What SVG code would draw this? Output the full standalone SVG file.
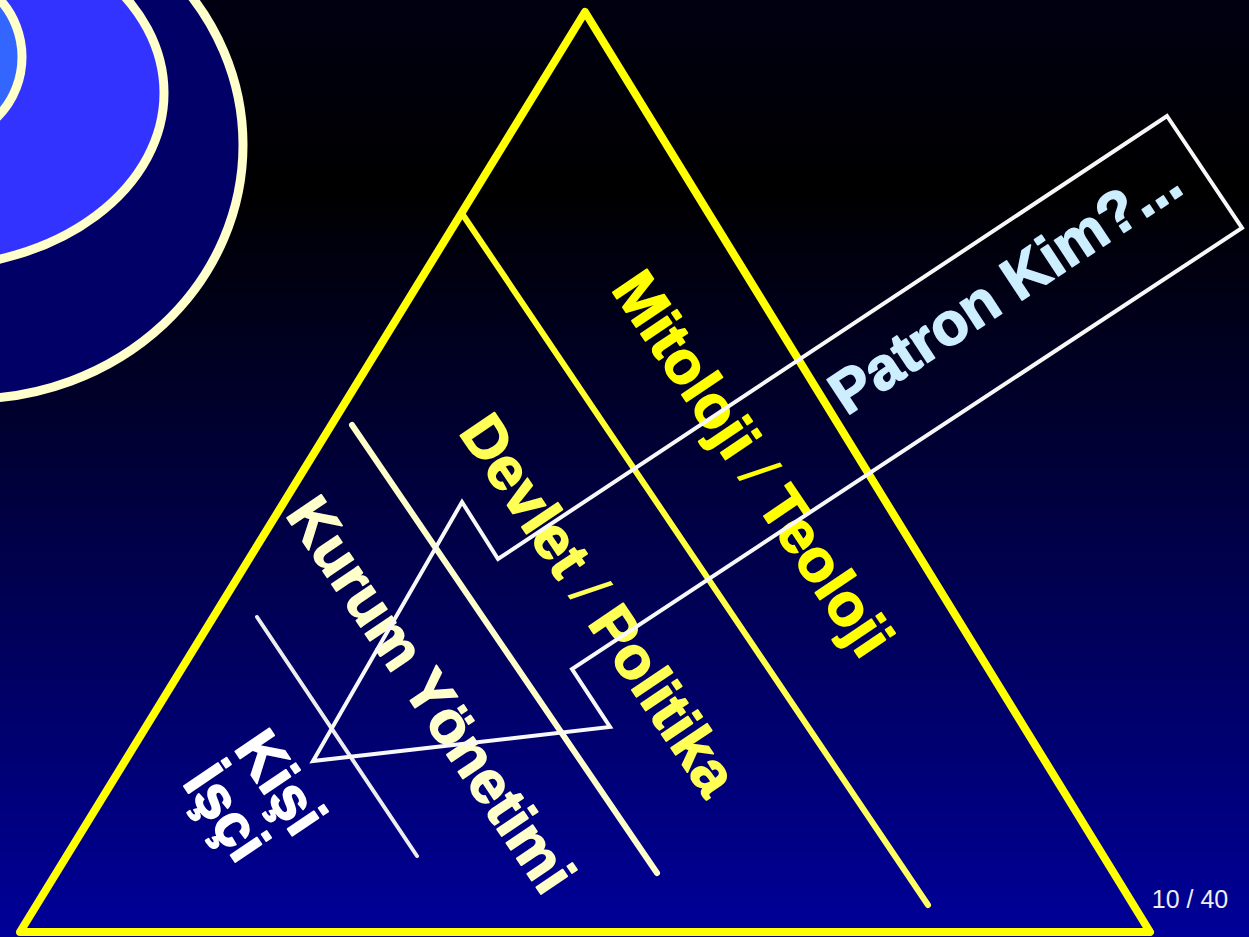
<svg xmlns="http://www.w3.org/2000/svg" width="1249" height="937" viewBox="0 0 1249 937">
  <defs>
    <linearGradient id="bg" x1="0" y1="0" x2="0" y2="1">
      <stop offset="0" stop-color="#000012"/>
      <stop offset="0.2" stop-color="#000000"/>
      <stop offset="1" stop-color="#000099"/>
    </linearGradient>
    <linearGradient id="line1" gradientUnits="userSpaceOnUse" x1="463" y1="215" x2="928" y2="905">
      <stop offset="0" stop-color="#ffff1a"/>
      <stop offset="1" stop-color="#ffff66"/>
    </linearGradient>
    <style>
      .ring { stroke: #ffffcc; stroke-width: 9; }
      .lbl { font-family: "Liberation Sans", Arial, sans-serif; font-weight: bold; font-size: 60px; stroke-width: 1.6px; stroke-linejoin: round; }
      .thin { font-weight: normal; stroke-width: 0; }
      .conn { fill: none; stroke-linecap: round; }
    </style>
  </defs>

  <rect id="background" x="0" y="0" width="1249" height="937" fill="url(#bg)"/>

  <g id="ellipses">
    <ellipse class="ring" cx="-30" cy="145" rx="273" ry="254" fill="#000066"/>
    <ellipse class="ring" cx="-70" cy="93" rx="234" ry="174" fill="#3333ff"/>
    <ellipse class="ring" cx="-60" cy="57" rx="82" ry="84" fill="#3366ff"/>
  </g>

  <g id="pyramid">
    <polygon points="585,12 1150,932 20,932" fill="none" stroke="#ffff00" stroke-width="8" stroke-linejoin="round"/>
  </g>

  <g id="connectors">
    <line class="conn" x1="463" y1="215" x2="928" y2="905" stroke="url(#line1)" stroke-width="6"/>
    <line class="conn" x1="352" y1="425" x2="657" y2="873" stroke="#ffffcc" stroke-width="6"/>
    <line class="conn" x1="257" y1="617" x2="417" y2="856" stroke="#eeeeee" stroke-width="4"/>
  </g>

  <g id="label-mitoloji">
    <text class="lbl" fill="#ffff00" stroke="#ffff00" text-anchor="middle" transform="translate(736,475) rotate(56)">Mitoloji <tspan class="thin">/</tspan> Teoloji</text>
  </g>
  <g id="label-devlet">
    <text class="lbl" fill="#ffff55" stroke="#ffff55" text-anchor="middle" transform="translate(582,616) rotate(56)">Devlet <tspan class="thin">/</tspan> Politika</text>
  </g>
  <g id="label-kurum">
    <text class="lbl" fill="#ffffcc" stroke="#ffffcc" text-anchor="middle" transform="translate(414,706) rotate(56)">Kurum Yönetimi</text>
  </g>
  <g id="label-kisi">
    <text class="lbl" fill="#ffffff" stroke="#ffffff" font-size="58" transform="translate(233,748) rotate(56)"><tspan x="0" y="0">Kişi</tspan><tspan x="0" y="62">İşçi</tspan></text>
  </g>

  <g id="arrow-patron">
    <polygon points="1167,116 1242,228 572,669 610,727 313,761 462,502 498,559" fill="none" stroke="#f8f8f8" stroke-width="4" stroke-linejoin="miter"/>
    <text class="lbl" fill="#cceeff" stroke="#cceeff" text-anchor="middle" transform="translate(1016,304) rotate(-33.5)">Patron Kim?...</text>
  </g>

  <g id="page-number">
    <text x="1190" y="908" text-anchor="middle" font-family="Liberation Sans, Arial, sans-serif" font-size="25" fill="#eeeeee">10 / 40</text>
  </g>
</svg>
